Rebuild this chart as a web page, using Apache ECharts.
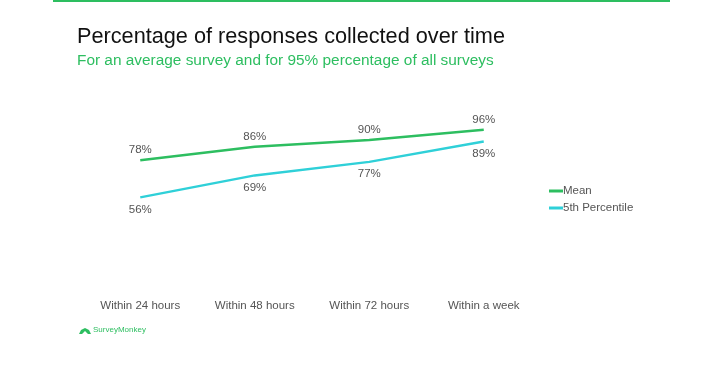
<!DOCTYPE html>
<html>
<head>
<meta charset="utf-8">
<script src="https://cdn.jsdelivr.net/npm/echarts@6/dist/echarts.min.js"></script>
<style>
  html, body { margin: 0; padding: 0; background: #fff; }
  #chart { width: 705px; height: 377px; }
</style>
</head>
<body>
<div id="chart"></div>
<script>
var categories = ['Within 24 hours', 'Within 48 hours', 'Within 72 hours', 'Within a week'];
var meanValues = [78, 86, 90, 96];
var percentileValues = [56, 69, 77, 89];

var chart = echarts.init(document.getElementById('chart'));

var labelStyle = {
  show: true,
  formatter: '{c}%',
  color: '#555',
  fontSize: 11.5,
  fontFamily: 'Liberation Sans, Arial, sans-serif'
};

chart.setOption({
  backgroundColor: '#fff',
  animation: false,
  title: [
    {
      text: 'Percentage of responses collected over time',
      left: 72,
      top: 21,
      textStyle: { fontSize: 21.7, fontWeight: 'normal', color: '#111', fontFamily: 'Liberation Sans, Arial, sans-serif' }
    },
    {
      text: 'For an average survey and for 95% percentage of all surveys',
      left: 72,
      top: 48,
      textStyle: { fontSize: 15.4, fontWeight: 'normal', color: '#2dbe60', fontFamily: 'Liberation Sans, Arial, sans-serif' }
    }
  ],
  legend: {
    orient: 'vertical',
    left: 544,
    top: 180,
    itemWidth: 14,
    itemHeight: 3,
    itemGap: 5,
    icon: 'rect',
    textStyle: { color: '#555', fontSize: 11.5, fontFamily: 'Liberation Sans, Arial, sans-serif', padding: [0, 0, 0, -5] },
    data: ['Mean', '5th Percentile']
  },
  grid: { left: 83, right: 164, top: 123, bottom: 85 },
  xAxis: {
    type: 'category',
    data: categories,
    boundaryGap: true,
    axisLine: { show: false },
    axisTick: { show: false },
    axisLabel: { color: '#555', fontSize: 11.5, margin: 8, fontFamily: 'Liberation Sans, Arial, sans-serif' }
  },
  yAxis: {
    type: 'value',
    min: 0,
    max: 100,
    show: false
  },
  series: [
    {
      name: 'Mean',
      type: 'line',
      data: meanValues,
      symbol: 'circle',
      symbolSize: 0,
      color: '#2dbe60',
      lineStyle: { width: 2.5, color: '#2dbe60' },
      label: Object.assign({ position: 'top', distance: 4 }, labelStyle)
    },
    {
      name: '5th Percentile',
      type: 'line',
      data: percentileValues,
      symbol: 'circle',
      symbolSize: 0,
      color: '#2fd0d8',
      lineStyle: { width: 2.5, color: '#2fd0d8' },
      label: Object.assign({ position: 'bottom', distance: 6 }, labelStyle)
    }
  ],
  graphic: [
    {
      type: 'rect',
      shape: { x: 53, y: 0, width: 617, height: 2 },
      style: { fill: '#2dbe60' }
    },
    {
      type: 'polygon',
      shape: { points: [[79, 334], [81, 330], [85, 328], [89, 330], [91, 334], [88, 334], [85, 331], [82, 334]] },
      style: { fill: '#2dbe60' }
    },
    {
      type: 'text',
      left: 93,
      top: 326,
      style: { text: 'SurveyMonkey', fill: '#2dbe60', fontSize: 8, fontFamily: 'Liberation Sans, Arial, sans-serif' }
    }
  ]
});
</script>
</body>
</html>
